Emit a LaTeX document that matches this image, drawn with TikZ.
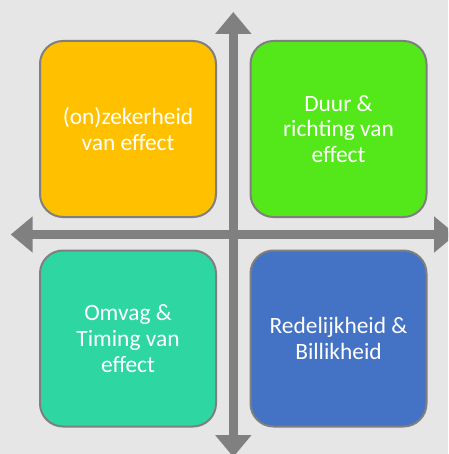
\documentclass[tikz,border=0pt]{standalone}
\usepackage{fontspec}
\setmainfont{Carlito}
\usetikzlibrary{arrows.meta}
\definecolor{bgcol}{HTML}{E6E6E6}
\definecolor{axiscol}{HTML}{808080}
\definecolor{edgecol}{HTML}{7F7F7F}
\definecolor{orangebox}{HTML}{FFC000}
\definecolor{greenbox}{HTML}{54E81B}
\definecolor{tealbox}{HTML}{2ED6A2}
\definecolor{bluebox}{HTML}{4472C4}
\tikzset{
  quadrant/.style={draw=edgecol, line width=2pt, rounded corners=23pt,
    minimum width=176pt, minimum height=176pt, inner sep=0pt,
    text=white, align=center,
    font=\fontsize{23.4pt}{25.7pt}\selectfont},
  axis/.style={draw=axiscol, line width=9.3pt,
    {Triangle[width=35pt,length=22pt]}-{Triangle[width=35pt,length=22pt]}},
}
\begin{document}
\begin{tikzpicture}[x=1pt,y=-1pt]
  \useasboundingbox (0,0) rectangle (448,454);
  \fill[bgcol] (0,0) rectangle (448,454);
  \clip (0,0) rectangle (448,454);
  % axis end points
  \coordinate (top) at (233.3,12);
  \coordinate (bottom) at (233.3,457);
  \coordinate (left) at (10.7,234.5);
  \coordinate (right) at (456,234.5);
  \draw[axis] (bottom) -- (top);
  \draw[axis] (left) -- (right);
  % four quadrants
  \node[quadrant, fill=orangebox] (q1) at (128,129) {(on)zekerheid\\van effect};
  \node[quadrant, fill=greenbox] (q2) at (338.5,129) {Duur \&\\richting van\\effect};
  \node[quadrant, fill=tealbox] (q3) at (128,338.5) {Omvag \&\\Timing van\\effect};
  \node[quadrant, fill=bluebox] (q4) at (338.5,338.5) {Redelijkheid \&\\Billikheid};
\end{tikzpicture}
\end{document}
